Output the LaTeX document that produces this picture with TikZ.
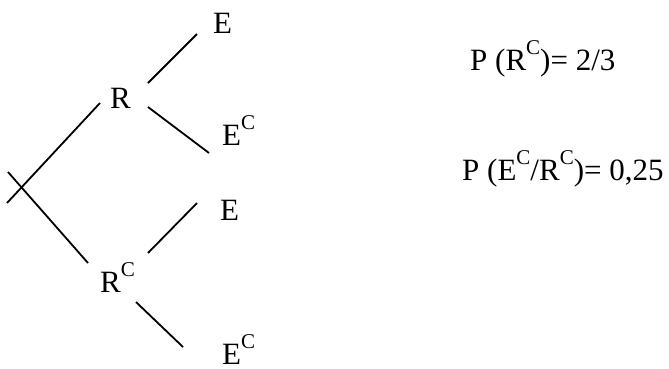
\documentclass[tikz,border=0pt]{standalone}
\usepackage{fontspec}
\setmainfont{Liberation Serif}
\newcommand{\supC}{\raisebox{16pt}{\fontsize{21}{21}\selectfont C}}
\begin{document}
\begin{tikzpicture}[x=1pt, y=-1pt,
        lbl/.style={inner sep=0pt, anchor=base west, font=\fontsize{31}{36}\selectfont},
        branch/.style={line width=1.8pt}]
        \useasboundingbox (0,0) rectangle (669,368);

        \node[lbl] (R) at (110,108) {R};
        \node[lbl] (Rc) at (100,292) {R\supC};
        \node[lbl] (E1) at (213,33) {E};
        \node[lbl] (Ec1) at (222,145) {E\supC};
        \node[lbl] (E2) at (220,220) {E};
        \node[lbl] (Ec2) at (222,364) {E\supC};
        \node[lbl] (P1) at (470,70) {P (R\supC)= 2/3};
        \node[lbl] (P2) at (462,180) {P (E\supC/R\supC)= 0,25};

        \coordinate (root1) at (7,203);
        \coordinate (root2) at (8,172);
        \coordinate (R-in) at (100,103);
        \coordinate (Rc-in) at (88,263);
        \coordinate (R-up) at (148,83);
        \coordinate (R-down) at (148,107);
        \coordinate (Rc-up) at (148,253);
        \coordinate (Rc-down) at (136,302);
        \coordinate (E1-in) at (197,34);
        \coordinate (Ec1-in) at (209,153);
        \coordinate (E2-in) at (197,203);
        \coordinate (Ec2-in) at (183,347);

        \draw[branch] (root1) -- (R-in);
        \draw[branch] (root2) -- (Rc-in);
        \draw[branch] (R-up) -- (E1-in);
        \draw[branch] (R-down) -- (Ec1-in);
        \draw[branch] (Rc-up) -- (E2-in);
        \draw[branch] (Rc-down) -- (Ec2-in);
    \end{tikzpicture}
\end{document}
